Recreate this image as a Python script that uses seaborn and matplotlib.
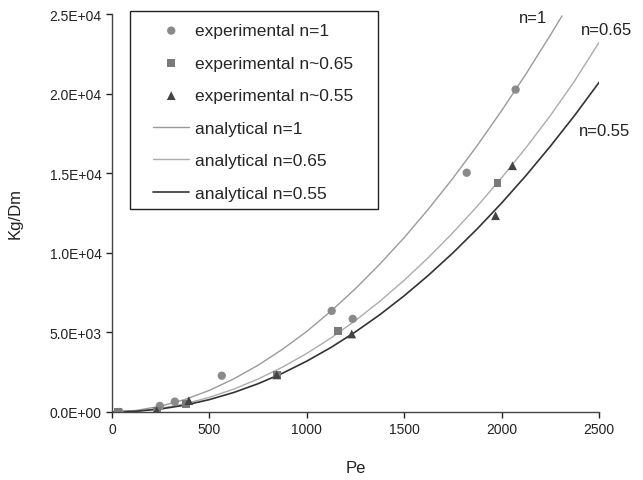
import matplotlib
matplotlib.use("Agg")
import matplotlib.pyplot as plt
import seaborn as sns
from matplotlib.ticker import FuncFormatter, MultipleLocator
from matplotlib.patches import Rectangle

sns.set_style("white")
plt.rcParams['font.family'] = ['Liberation Sans', 'DejaVu Sans']

# experimental data
pe_exp_n1 = [40, 246, 323, 564, 1128, 1236, 1821, 2072]
kg_exp_n1 = [0, 380, 650, 2280, 6350, 5850, 15030, 20250]
pe_exp_n065 = [30, 230, 379, 846, 1159, 1979]
kg_exp_n065 = [0, 100, 500, 2330, 5100, 14400]
pe_exp_n055 = [230, 395, 846, 1231, 1969, 2056]
kg_exp_n055 = [80, 710, 2330, 4900, 12330, 15470]

# analytical curves
pe_an_n1 = [0, 125, 250, 375, 500, 625, 750, 875, 1000, 1125, 1250, 1375, 1500,
            1625, 1750, 1875, 2000, 2125, 2250, 2310]
kg_an_n1 = [0, 98, 364, 786, 1355, 2077, 2935, 3935, 5060, 6341, 7747, 9288, 10950,
            12754, 14680, 16738, 18924, 21232, 23668, 24880]
pe_an_n065 = [0, 125, 250, 375, 500, 625, 750, 875, 1000, 1125, 1250, 1375, 1500,
              1625, 1750, 1875, 2000, 2125, 2250, 2375, 2520]
kg_an_n065 = [0, 57, 230, 517, 919, 1436, 2068, 2815, 3677, 4654, 5745, 6951, 8273,
              9709, 11261, 12927, 14707, 16603, 18614, 20800, 23600]
pe_an_n055 = [0, 125, 250, 375, 500, 625, 750, 875, 1000, 1125, 1250, 1375, 1500,
              1625, 1750, 1875, 2000, 2125, 2250, 2375, 2530]
kg_an_n055 = [0, 46, 188, 431, 776, 1223, 1774, 2430, 3193, 4058, 5033, 6110, 7299,
              8593, 9993, 11505, 13123, 14851, 16689, 18633, 21200]

fig = plt.figure(figsize=(6.43, 4.81), dpi=100)
ax = fig.add_axes([0.174, 0.1414, 0.7576, 0.8274])

sns.scatterplot(x=pe_exp_n1, y=kg_exp_n1, ax=ax, marker='o', s=36, color='#8a8a8a',
                edgecolor='none', label='experimental n=1', zorder=3)
sns.scatterplot(x=pe_exp_n065, y=kg_exp_n065, ax=ax, marker='s', s=30, color='#7a7a7a',
                edgecolor='none', label='experimental n~0.65', zorder=3)
sns.scatterplot(x=pe_exp_n055, y=kg_exp_n055, ax=ax, marker='^', s=40, color='#444444',
                edgecolor='none', label='experimental n~0.55', zorder=3)

sns.lineplot(x=pe_an_n1, y=kg_an_n1, ax=ax, color='#9a9a9a', lw=1.0,
             label='analytical n=1', sort=False)
sns.lineplot(x=pe_an_n065, y=kg_an_n065, ax=ax, color='#acacac', lw=1.0,
             label='analytical n=0.65', sort=False)
sns.lineplot(x=pe_an_n055, y=kg_an_n055, ax=ax, color='#333333', lw=1.2,
             label='analytical n=0.55', sort=False)

ax.set_xlim(0, 2500)
ax.set_ylim(0, 25000)
ax.xaxis.set_major_locator(MultipleLocator(500))
ax.yaxis.set_major_locator(MultipleLocator(5000))
ax.yaxis.set_major_formatter(FuncFormatter(lambda v, p: f"{v:.1E}"))
ax.tick_params(axis='both', direction='out', length=4, width=1, labelsize=10,
               colors='#222222', left=True, bottom=True)
for s in ['top', 'right']:
    ax.spines[s].set_visible(False)
for s in ['left', 'bottom']:
    ax.spines[s].set_color('#444444')
    ax.spines[s].set_linewidth(1.0)

ax.set_xlabel('Pe', fontsize=12, color='#222222', labelpad=17)
ax.set_ylabel('Kg/Dm', fontsize=12, color='#222222', labelpad=19)

ax.text(2089, 24500, 'n=1', fontsize=12, color='#222222', clip_on=False)
ax.text(2408, 23750, 'n=0.65', fontsize=12, color='#222222', clip_on=False)
ax.text(2397, 17420, 'n=0.55', fontsize=12, color='#222222', clip_on=False)

# legend frame box
ax.add_patch(Rectangle((130 / 643, 1 - 210 / 481), 248 / 643, 198 / 481,
                       transform=fig.transFigure, facecolor='white',
                       edgecolor='#222222', linewidth=1.0, zorder=4,
                       clip_on=False))
leg = ax.legend(loc='upper left', bbox_to_anchor=(153 / 643, 1 - 24 / 481),
                bbox_transform=fig.transFigure, fontsize=12.5, frameon=False,
                labelspacing=1.0, handlelength=2.1, borderpad=0.0,
                handletextpad=0.3, borderaxespad=0)
leg.set_zorder(5)

fig.savefig('out.png', dpi=100)
